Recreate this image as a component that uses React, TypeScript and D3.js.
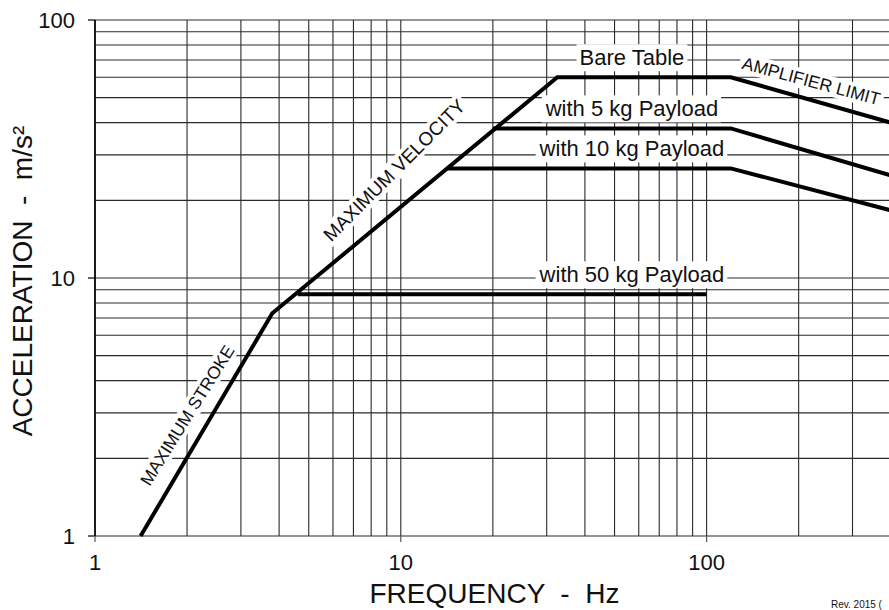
import React, { useEffect, useRef } from 'react';
import * as d3 from 'd3';

const W = 889;
const H = 610;

const xTicks = [1, 10, 100];
const xTickLabels = ['1', '10', '100'];
const yTicks = [1, 10, 100];
const yTickLabels = ['1', '10', '100'];

const bareFreq = [1.41, 3.8, 32.5, 120, 400];
const bareAccel = [1, 7.3, 60, 60, 40];
const p5Freq = [20, 120, 400];
const p5Accel = [38, 38, 25];
const p10Freq = [14.2, 120, 400];
const p10Accel = [26.6, 26.6, 18.3];
const p50Freq = [4.6, 100];
const p50Accel = [8.65, 8.65];

const levelLabels = ['Bare Table', 'with 5 kg Payload', 'with 10 kg Payload', 'with 50 kg Payload'];
const levelValues = [60, 38, 26.6, 8.65];
const levelLabelFreq = 57;

const regionLabels = ['MAXIMUM STROKE', 'MAXIMUM VELOCITY', 'AMPLIFIER LIMIT'];
const regionFreq = [2.0, 9.5, 220];
const regionAccel = [2.94, 26.2, 58.1];
const regionAngle = [-58, -45, 15];
const regionSize = [17.5, 19, 17.5];

const FONT = "'Liberation Sans', Arial, Helvetica, sans-serif";

export default function App() {
  const ref = useRef<SVGSVGElement | null>(null);

  useEffect(() => {
    const svg = d3.select(ref.current);
    svg.selectAll('*').remove();

    const x = d3.scaleLog().domain([1, 1000]).range([95, 95 + 3 * 305.8]);
    const y = d3.scaleLog().domain([1, 100]).range([536, 20]);

    svg.append('rect').attr('width', W).attr('height', H).attr('fill', '#fff');

    const xGrid: number[] = [];
    for (let k = 0; k < 3; k++) for (let m = 1; m <= 9; m++) xGrid.push(m * Math.pow(10, k));
    xGrid.push(1000);
    const yGrid: number[] = [];
    for (let k = 0; k < 2; k++) for (let m = 1; m <= 9; m++) yGrid.push(m * Math.pow(10, k));
    yGrid.push(100);

    const g = svg.append('g');
    g.selectAll('line.vx').data(xGrid).join('line')
      .attr('x1', d => x(d)).attr('x2', d => x(d))
      .attr('y1', y(100)).attr('y2', y(1))
      .attr('stroke', '#2a2a2a').attr('stroke-width', 1.1);
    g.selectAll('line.hy').data(yGrid).join('line')
      .attr('x1', x(1)).attr('x2', W + 10)
      .attr('y1', d => y(d)).attr('y2', d => y(d))
      .attr('stroke', '#2a2a2a').attr('stroke-width', 1.1);

    g.append('line').attr('x1', x(1)).attr('x2', x(1)).attr('y1', y(100)).attr('y2', y(1))
      .attr('stroke', '#000').attr('stroke-width', 1.6);
    g.selectAll('line.yt').data(yTicks).join('line')
      .attr('x1', x(1) - 7).attr('x2', x(1))
      .attr('y1', d => y(d)).attr('y2', d => y(d))
      .attr('stroke', '#000').attr('stroke-width', 1.2);
    g.selectAll('line.xt').data(xTicks).join('line')
      .attr('x1', d => x(d)).attr('x2', d => x(d))
      .attr('y1', y(1)).attr('y2', y(1) + 6)
      .attr('stroke', '#555').attr('stroke-width', 1.2);

    svg.selectAll('text.xl').data(xTicks).join('text')
      .attr('x', d => x(d)).attr('y', 570)
      .attr('text-anchor', 'middle').attr('font-family', FONT).attr('font-size', 22)
      .attr('fill', '#111')
      .text((d, i) => xTickLabels[i]);
    svg.selectAll('text.yl').data(yTicks).join('text')
      .attr('x', 75).attr('y', d => y(d) + 8)
      .attr('text-anchor', 'end').attr('font-family', FONT).attr('font-size', 22)
      .attr('fill', '#111')
      .text((d, i) => yTickLabels[i]);

    const boxLayer = svg.append('g');
    const curveLayer = svg.append('g');
    const textLayer = svg.append('g');

    levelLabels.forEach((lab, i) => {
      const t = textLayer.append('text')
        .attr('x', x(levelLabelFreq)).attr('y', y(levelValues[i]) - 12)
        .attr('text-anchor', 'middle').attr('font-family', FONT).attr('font-size', 22)
        .attr('fill', '#111').text(lab);
      const bb = (t.node() as SVGTextElement).getBBox();
      boxLayer.append('rect')
        .attr('x', bb.x - 3).attr('y', bb.y - 1).attr('width', bb.width + 6).attr('height', bb.height + 2)
        .attr('fill', '#fff');
    });

    regionLabels.forEach((lab, i) => {
      const tr = `translate(${x(regionFreq[i])},${y(regionAccel[i])}) rotate(${regionAngle[i]})`;
      const tg = textLayer.append('g').attr('transform', tr);
      const t = tg.append('text')
        .attr('x', 0).attr('y', 0).attr('dy', '0.36em')
        .attr('text-anchor', 'middle').attr('font-family', FONT).attr('font-size', regionSize[i])
        .attr('fill', '#111').text(lab);
      const bb = (t.node() as SVGTextElement).getBBox();
      boxLayer.append('g').attr('transform', tr).append('rect')
        .attr('x', bb.x - 3).attr('y', bb.y).attr('width', bb.width + 6).attr('height', bb.height)
        .attr('fill', '#fff');
    });

    const line = d3.line<[number, number]>().x(d => x(d[0])).y(d => y(d[1]));
    const series: [number[], number[]][] = [
      [bareFreq, bareAccel], [p5Freq, p5Accel], [p10Freq, p10Accel], [p50Freq, p50Accel],
    ];
    series.forEach(([fs, as]) => {
      curveLayer.append('path')
        .attr('d', line(fs.map((f, j) => [f, as[j]] as [number, number])) as string)
        .attr('fill', 'none').attr('stroke', '#000').attr('stroke-width', 4)
        .attr('stroke-linejoin', 'miter').attr('stroke-linecap', 'butt');
    });

    svg.append('text')
      .attr('x', 494.5).attr('y', 603)
      .attr('text-anchor', 'middle').attr('font-family', FONT).attr('font-size', 28)
      .attr('fill', '#111').attr('xml:space', 'preserve').style('white-space', 'pre')
      .text('FREQUENCY  -  Hz');
    svg.append('text')
      .attr('transform', `translate(32,281) rotate(-90)`)
      .attr('text-anchor', 'middle').attr('font-family', FONT).attr('font-size', 28)
      .attr('fill', '#111').attr('xml:space', 'preserve').style('white-space', 'pre')
      .text('ACCELERATION  -  m/s²');

    svg.append('text')
      .attr('x', 831).attr('y', 608)
      .attr('font-family', FONT).attr('font-size', 10)
      .attr('fill', '#111').text('Rev. 2015 (');
  }, []);

  return (
    <div style={{ position: 'fixed', left: 0, top: 0 }}>
      <svg ref={ref} width={W} height={H} style={{ display: 'block' }} />
    </div>
  );
}
